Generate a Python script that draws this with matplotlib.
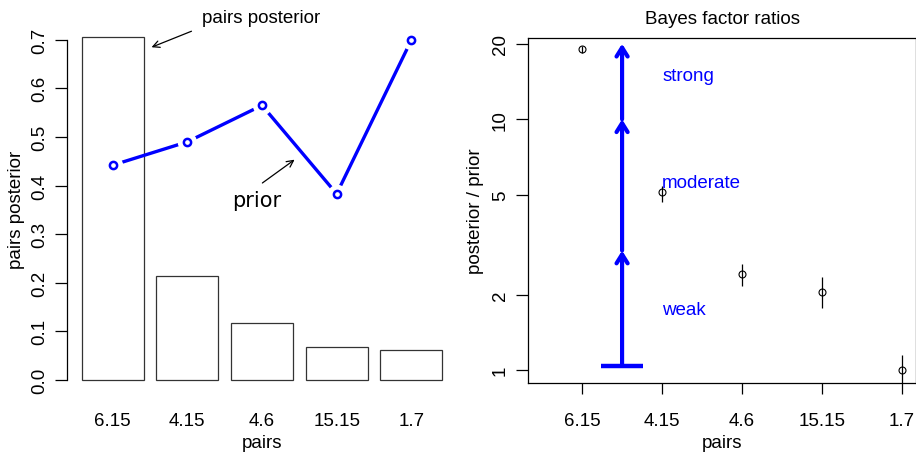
import numpy as np
import matplotlib
matplotlib.use('Agg')
import matplotlib.pyplot as plt

#
# Data
#

pairs = ["6.15", "4.15", "4.6", "15.15", "1.7"]

# left panel: posterior bars and prior line
posterior = [0.705, 0.213, 0.117, 0.067, 0.061]
prior = [0.442, 0.490, 0.565, 0.383, 0.699]

# right panel: Bayes factor ratio with error ranges
bf = [19.0, 5.12, 2.42, 2.06, 1.00]
bf_lo = [18.3, 4.70, 2.16, 1.77, 0.85]
bf_hi = [19.65, 5.44, 2.65, 2.35, 1.154]

# evidence scale arrow (x position and break points)
scale_x = 1.5
scale_breaks = [1.04, 3, 10, 20]
scale_labels = ["weak", "moderate", "strong"]
scale_label_y = [1.75, 5.6, 15]

#
# Figure setup
#

W, H = 916, 456
plt.rcParams['font.family'] = ['Liberation Sans', 'DejaVu Sans']
plt.rcParams['font.size'] = 13.5
fig = plt.figure(figsize=(W / 100, H / 100), dpi=100)


def add_axes_px(left, top, right, bottom):
	return fig.add_axes([left / W, 1 - bottom / H, (right - left) / W, (bottom - top) / H])


# ---- left panel: barplot ----
ax1 = add_axes_px(67.2, 24.7, 456.8, 394.7)
bar_x = 0.7 + 1.2 * np.arange(len(pairs))
ax1.bar(bar_x, posterior, width=1.0, color='white', edgecolor='#333333', linewidth=0.9)
ax1.set_xlim(-0.032, 6.232)
ax1.set_ylim(-0.0282, 0.733)

for s in ['top', 'right', 'bottom']:
	ax1.spines[s].set_visible(False)
ax1.spines['left'].set_bounds(0, 0.7)
ax1.spines['left'].set_linewidth(0.9)

yt = np.arange(0, 0.71, 0.1)
ax1.set_yticks(yt)
ax1.set_yticklabels(["%.1f" % v for v in yt], rotation=90, va='center')
ax1.tick_params(axis='y', length=8.4, width=0.9, pad=5)
ax1.set_xticks(bar_x)
ax1.set_xticklabels(pairs)
ax1.tick_params(axis='x', length=0, pad=13.3)

ax1.set_xlabel("pairs")
ax1.xaxis.set_label_coords(0.5, -0.1449)
ax1.xaxis.label.set_va('baseline')
ax1.set_ylabel("pairs posterior")
ax1.yaxis.set_label_coords(-0.1296, 0.5)
ax1.yaxis.label.set_va('center')

# prior as R type="b": line with gaps around the points
ax1.plot(bar_x, prior, color='blue', lw=2.4, zorder=3, solid_capstyle='butt')
ax1.plot(bar_x, prior, 'o', color='white', ms=14, mew=0, zorder=4)
ax1.plot(bar_x, prior, 'o', mfc='none', mec='blue', ms=5.2, mew=1.8, zorder=5)

ax1.text(3.08, 0.745, "pairs posterior", ha='center', va='center', clip_on=False)
ax1.annotate("", xy=(1.324, 0.6846), xytext=(1.966, 0.7175), annotation_clip=False,
	arrowprops=dict(arrowstyle='->', lw=0.9, color='black', shrinkA=0, shrinkB=0, mutation_scale=12))
ax1.text(3.02, 0.370, "prior", ha='center', va='center', family='DejaVu Sans', fontsize=15)
ax1.annotate("", xy=(3.624, 0.4533), xytext=(3.106, 0.4053),
	arrowprops=dict(arrowstyle='->', lw=0.9, color='black', shrinkA=0, shrinkB=0, mutation_scale=12))

# ---- right panel: Bayes factor ratios ----
ax2 = add_axes_px(527.7, 38.7, 916.4, 384.0)
ax2.set_yscale('log')
xs = np.arange(1, len(pairs) + 1)
ax2.vlines(xs, bf_lo, bf_hi, color='black', lw=0.9)
ax2.plot(xs, bf, 'o', mfc='none', mec='black', ms=5, mew=0.8)
ax2.set_xlim(0.32, 5.18)
ax2.set_ylim(0.890, 21.13)

for s in ax2.spines.values():
	s.set_linewidth(0.9)

ax2.yaxis.set_minor_locator(matplotlib.ticker.NullLocator())
yt2 = [1, 2, 5, 10, 20]
ax2.set_yticks(yt2)
ax2.set_yticklabels([str(v) for v in yt2], rotation=90, va='center')
ax2.tick_params(axis='y', length=8.6, width=0.9, pad=5)
ax2.set_xticks(xs)
ax2.set_xticklabels(pairs)
ax2.tick_params(axis='x', length=8, width=0.9, pad=13)

ax2.set_xlabel("pairs")
ax2.xaxis.set_label_coords(0.5, -0.1862)
ax2.xaxis.label.set_va('baseline')
ax2.set_ylabel("posterior / prior")
ax2.yaxis.set_label_coords(-0.1338, 0.5)
ax2.yaxis.label.set_va('center')
ax2.text(0.5, 1.057, "Bayes factor ratios", transform=ax2.transAxes, ha='center', va='center')

# evidence scale arrow
ax2.hlines(scale_breaks[0], scale_x - 0.26, scale_x + 0.26, color='blue', lw=3.2)
for y0, y1 in zip(scale_breaks[:-1], scale_breaks[1:]):
	ax2.annotate("", xy=(scale_x, y1), xytext=(scale_x, y0), annotation_clip=False,
		arrowprops=dict(arrowstyle='->,head_length=0.4,head_width=0.25', lw=3.0, color='blue',
			shrinkA=0, shrinkB=0, mutation_scale=16))
for lab, ly in zip(scale_labels, scale_label_y):
	ax2.text(2.0, ly, lab, color='blue', ha='left', va='center')

fig.savefig("out.png", dpi=100)
